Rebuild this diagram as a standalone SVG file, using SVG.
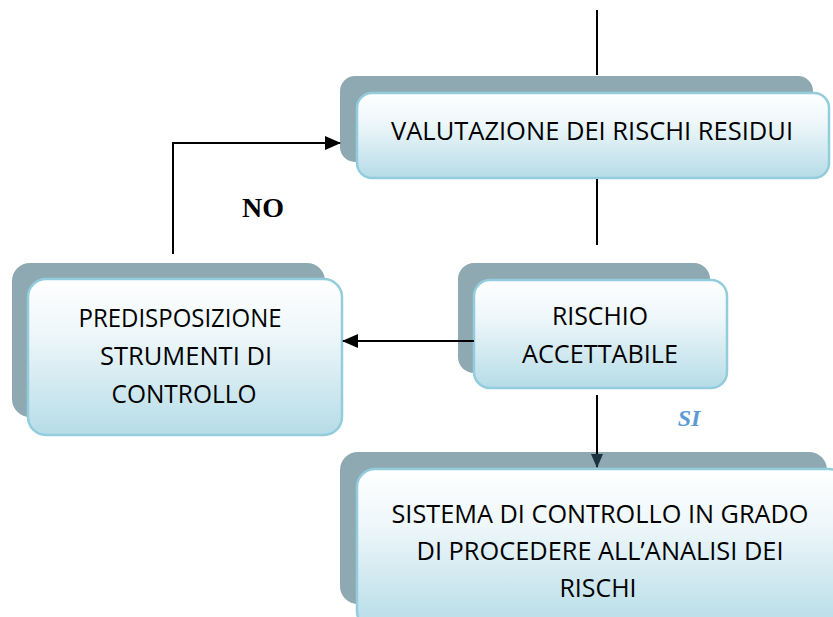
<svg xmlns="http://www.w3.org/2000/svg" width="833" height="617" viewBox="0 0 833 617">
<defs>
<linearGradient id="g" x1="0" y1="0" x2="0" y2="1">
<stop offset="0" stop-color="#ffffff"/>
<stop offset="0.35" stop-color="#eef7fa"/>
<stop offset="1" stop-color="#b6dce7"/>
</linearGradient>
<marker id="ah2" markerWidth="14" markerHeight="12" refX="13" refY="6" orient="auto" markerUnits="userSpaceOnUse">
<path d="M0,0 L14,6 L0,12 Z" fill="#1b3440"/>
</marker>
<marker id="ah3" markerWidth="16" markerHeight="14" refX="15" refY="7" orient="auto" markerUnits="userSpaceOnUse">
<path d="M0,0 L16,7 L0,14 Z" fill="#000"/>
</marker>
</defs>
<style>
.sh{fill:#8ea9b1}
.fr{fill:url(#g);stroke:#93cddd;stroke-width:2.5}
.t{font-family:"Open Sans","Liberation Sans",sans-serif;font-size:26px;fill:#000;text-anchor:middle}
.ln{stroke:#000;stroke-width:2;fill:none}
</style>
<g id="valutazione">
<rect class="sh" x="340" y="76" width="473" height="86" rx="15"/>
<rect class="fr" x="357" y="93" width="472" height="85" rx="15"/>
<text class="t" x="592" y="140" textLength="402" lengthAdjust="spacingAndGlyphs">VALUTAZIONE DEI RISCHI RESIDUI</text>
</g>
<g id="predisposizione">
<rect class="sh" x="12" y="263" width="313" height="154" rx="18"/>
<rect class="fr" x="28" y="279" width="314" height="156" rx="18"/>
<text class="t" x="180" y="327" textLength="203" lengthAdjust="spacingAndGlyphs">PREDISPOSIZIONE</text>
<text class="t" x="186" y="365" textLength="172" lengthAdjust="spacingAndGlyphs">STRUMENTI DI</text>
<text class="t" x="184" y="403" textLength="145" lengthAdjust="spacingAndGlyphs">CONTROLLO</text>
</g>
<g id="rischio">
<rect class="sh" x="458" y="263" width="252" height="110" rx="16"/>
<rect class="fr" x="474" y="280" width="253" height="108" rx="16"/>
<text class="t" x="600" y="325" textLength="96" lengthAdjust="spacingAndGlyphs">RISCHIO</text>
<text class="t" x="600" y="363" textLength="156" lengthAdjust="spacingAndGlyphs">ACCETTABILE</text>
</g>
<g id="sistema">
<rect class="sh" x="340" y="452" width="487" height="152" rx="18"/>
<rect class="fr" x="357" y="469" width="490" height="160" rx="18"/>
<text class="t" x="600" y="523" textLength="417" lengthAdjust="spacingAndGlyphs">SISTEMA DI CONTROLLO IN GRADO</text>
<text class="t" x="600" y="560" textLength="367" lengthAdjust="spacingAndGlyphs">DI PROCEDERE ALL’ANALISI DEI</text>
<text class="t" x="598" y="597" textLength="77" lengthAdjust="spacingAndGlyphs">RISCHI</text>
</g>
<g id="connectors">
<line class="ln" x1="597" y1="10" x2="597" y2="75"/>
<line class="ln" x1="597" y1="179" x2="597" y2="245"/>
<line class="ln" x1="474" y1="341" x2="343" y2="341" marker-end="url(#ah3)"/>
<line class="ln" x1="597" y1="395" x2="597" y2="467" marker-end="url(#ah2)"/>
<polyline class="ln" points="173,254 173,143 340,143" marker-end="url(#ah3)"/>
<text x="263" y="217" font-family="'Liberation Serif',serif" font-weight="bold" font-size="28" text-anchor="middle">NO</text>
<text x="689" y="426" font-family="'Liberation Serif',serif" font-weight="bold" font-style="italic" font-size="24" fill="#5b9bd5" text-anchor="middle">SI</text>
</g>
</svg>
